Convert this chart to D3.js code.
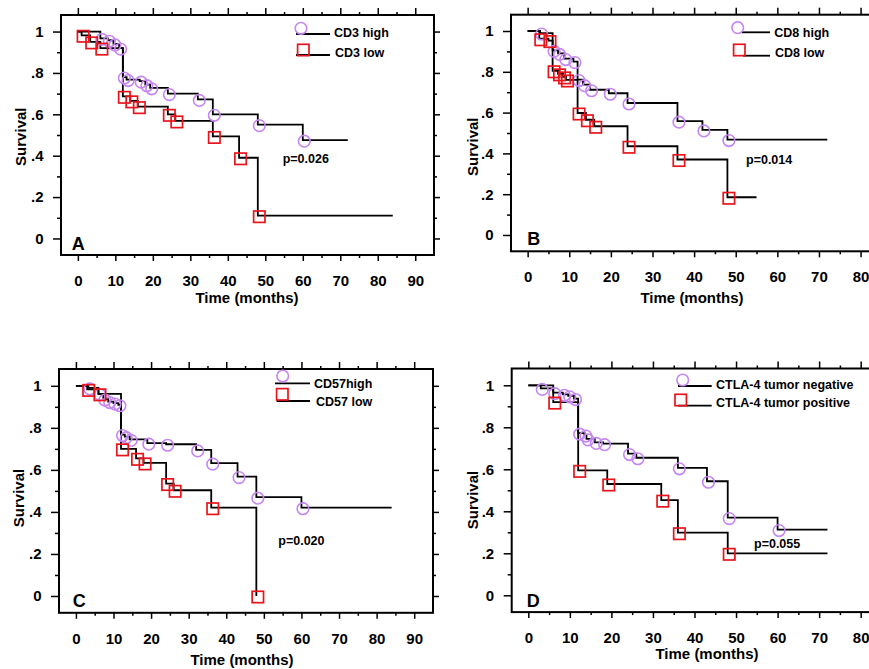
<!DOCTYPE html>
<html><head><meta charset="utf-8">
<script src="https://cdn.jsdelivr.net/npm/d3@7"></script>
<style>
body{margin:0;background:#fff;}
svg{display:block;font-family:"Liberation Sans",Arial,sans-serif;font-weight:bold;}
</style></head><body>
<svg id="chart" width="869" height="669"></svg>
<script>
// ---------------- DATA ----------------
// Panel A: CD3
const cd3HighT = [6, 8, 9.5, 11, 12, 13, 16.5, 18, 19.3, 24, 32, 36, 48, 60];
const cd3HighS = [0.967, 0.958, 0.94, 0.92, 0.78, 0.768, 0.76, 0.743, 0.728, 0.70, 0.672, 0.60, 0.55, 0.475];
const cd3HighEnd = 72;
const cd3LowT = [1, 3.3, 6, 12, 14, 16, 24, 26, 36, 43, 48];
const cd3LowS = [0.982, 0.95, 0.92, 0.687, 0.665, 0.637, 0.60, 0.568, 0.493, 0.39, 0.11];
const cd3LowEnd = 84;
// Panel B: CD8
const cd8HighT = [3, 6, 7.3, 8.8, 11, 12, 13.3, 15, 19.5, 24, 36, 42, 48];
const cd8HighS = [0.99, 0.905, 0.89, 0.865, 0.85, 0.762, 0.737, 0.712, 0.695, 0.647, 0.558, 0.515, 0.468];
const cd8HighEnd = 72;
const cd8LowT = [2.8, 5, 6, 7.3, 8.5, 9.2, 12, 14, 16, 24, 36, 48];
const cd8LowS = [0.962, 0.953, 0.805, 0.79, 0.775, 0.76, 0.598, 0.565, 0.533, 0.435, 0.37, 0.185];
const cd8LowEnd = 55;
// Panel C: CD57
const cd57HighT = [3.3, 6, 7.3, 8.6, 10, 11.3, 12, 13, 14.3, 19, 24, 32, 36, 43, 48, 60];
const cd57HighS = [0.99, 0.962, 0.937, 0.925, 0.918, 0.91, 0.768, 0.758, 0.745, 0.727, 0.722, 0.695, 0.632, 0.568, 0.47, 0.42];
const cd57HighEnd = 84;
const cd57LowT = [3, 6, 12, 16, 18, 24, 26, 36, 48];
const cd57LowS = [0.983, 0.962, 0.70, 0.655, 0.633, 0.535, 0.503, 0.42, 0];
const cd57LowEnd = 48;
// Panel D: CTLA-4
const ctlaNegT = [3, 6, 8.3, 9.6, 11, 12, 13.5, 14, 16, 18, 24, 26, 36, 43, 48, 60];
const ctlaNegS = [0.985, 0.965, 0.957, 0.95, 0.937, 0.772, 0.763, 0.745, 0.728, 0.722, 0.675, 0.655, 0.607, 0.543, 0.37, 0.313];
const ctlaNegEnd = 72;
const ctlaPosT = [6, 12, 19, 32, 36, 48];
const ctlaPosS = [0.92, 0.595, 0.53, 0.453, 0.298, 0.2];
const ctlaPosEnd = 72;

// Labels
const panelLetters = ["A", "B", "C", "D"];
const legendHigh = ["CD3 high", "CD8 high", "CD57high", "CTLA-4 tumor negative"];
const legendLow = ["CD3 low", "CD8 low", "CD57 low", "CTLA-4 tumor positive"];
const pValues = ["p=0.026", "p=0.014", "p=0.020", "p=0.055"];
const xTickValues = [0, 10, 20, 30, 40, 50, 60, 70, 80, 90];
const xMinorValues = [5, 15, 25, 35, 45, 55, 65, 75, 85];
const yTickValues = [0, 0.2, 0.4, 0.6, 0.8, 1];
const yTickLabels = ["0", ".2", ".4", ".6", ".8", "1"];
const yMinorValues = [0.1, 0.3, 0.5, 0.7, 0.9];
const xTitle = "Time (months)";
const yTitle = "Survival";

// ---------------- LAYOUT ----------------
const series = [
  {high:[cd3HighT, cd3HighS, cd3HighEnd], low:[cd3LowT, cd3LowS, cd3LowEnd]},
  {high:[cd8HighT, cd8HighS, cd8HighEnd], low:[cd8LowT, cd8LowS, cd8LowEnd]},
  {high:[cd57HighT, cd57HighS, cd57HighEnd], low:[cd57LowT, cd57LowS, cd57LowEnd]},
  {high:[ctlaNegT, ctlaNegS, ctlaNegEnd], low:[ctlaPosT, ctlaPosS, ctlaPosEnd]}
];
const layout = [
  {frame:[61,15,434,255], xd:[-4.5,95],
   leg:[{s:[301,28.3], l:[296,330,34], t:[334,32]}, {s:[303.3,50], l:[296,330,55], t:[335,52.3]}],
   p:[282.7,158], letter:[71.7,250], ytitle:[20.7,136.7], xtitle:[247,302.7]},
  {frame:[511,14.7,923,251.3], xd:[-4,95],
   leg:[{s:[737.7,27.7], l:[741.7,770,32.3], t:[774.3,32.3]}, {s:[739.3,50], l:[743,770,55.7], t:[775,52.3]}],
   p:[746,159.3], letter:[527.3,245], ytitle:[472.3,146.7], xtitle:[692,302.7]},
  {frame:[59,369,433,612.8], xd:[-4.5,95],
   leg:[{s:[282.7,376], l:[275,310,383.3], t:[314,383.3]}, {s:[282.3,394.3], l:[276.7,310,401], t:[316,401]}],
   p:[278.3,540], letter:[72.7,606.7], ytitle:[19,498], xtitle:[242,665]},
  {frame:[511.7,368.5,923,612.1], xd:[-4,95],
   leg:[{s:[682.7,380], l:[678,711.7,386], t:[716,384]}, {s:[680.7,400], l:[678,711.7,405.7], t:[716,402.7]}],
   p:[754,543.3], letter:[526.7,606.7], ytitle:[472.3,500], xtitle:[707,658.5]}
];
const purple = "#c585f2";
const red = "#e8141c";

const svg = d3.select("#chart");

function drawCircle(g, x, y){
  g.append("circle").attr("cx", x).attr("cy", y).attr("r", 5.8)
    .attr("fill", "none").attr("stroke", purple).attr("stroke-width", 1.6);
}
function drawSquare(g, x, y){
  g.append("rect").attr("x", x-5.7).attr("y", y-5.7).attr("width", 11.4).attr("height", 11.4)
    .attr("fill", "none").attr("stroke", red).attr("stroke-width", 1.7);
}

layout.forEach((L, i) => {
  const [fl, ft, fr, fb] = L.frame;
  const x = d3.scaleLinear().domain(L.xd).range([fl, fr]);
  const y = d3.scaleLinear().domain([-0.08, 1.08]).range([fb, ft]);
  const g = svg.append("g");

  const ax = (gen, vals, size, fmt) => gen.tickValues(vals).tickSize(size).tickFormat(fmt);
  const bot = g.append("g").attr("transform", `translate(0,${fb})`)
    .call(ax(d3.axisBottom(x), xTickValues, 6, d3.format("d")));
  bot.selectAll("text").attr("y", 31).attr("dy", 0).style("font-size", "15px");
  g.append("g").attr("transform", `translate(0,${fb})`).call(ax(d3.axisBottom(x), xMinorValues, 3, ""));
  g.append("g").attr("transform", `translate(0,${ft})`).call(ax(d3.axisTop(x), xTickValues, 7, ""));
  g.append("g").attr("transform", `translate(0,${ft})`).call(ax(d3.axisTop(x), xMinorValues, 3, ""));
  const left = g.append("g").attr("transform", `translate(${fl},0)`)
    .call(ax(d3.axisLeft(y), yTickValues, 8, (d, k) => yTickLabels[k]));
  left.selectAll("text").attr("x", -17.5).style("font-size", "15px");
  g.append("g").attr("transform", `translate(${fl},0)`).call(ax(d3.axisLeft(y), yMinorValues, 4, ""));
  g.append("g").attr("transform", `translate(${fr},0)`).call(ax(d3.axisRight(y), yTickValues, 6, ""));
  g.append("g").attr("transform", `translate(${fr},0)`).call(ax(d3.axisRight(y), yMinorValues, 3, ""));
  g.selectAll(".domain").remove();
  g.selectAll(".tick line").attr("stroke", "#000").attr("stroke-width", 1.5);
  g.selectAll(".tick text").attr("fill", "#000").style("font-family", "'Liberation Sans',Arial,sans-serif").style("font-weight", "bold");

  g.append("rect").attr("x", fl).attr("y", ft).attr("width", fr - fl).attr("height", fb - ft)
    .attr("fill", "none").attr("stroke", "#000").attr("stroke-width", 2);

  const curves = [series[i].high, series[i].low];
  curves.forEach(([T, S, end]) => {
    const pts = [[0, 1]];
    let prev = 1;
    T.forEach((t, k) => { pts.push([t, prev]); pts.push([t, S[k]]); prev = S[k]; });
    pts.push([end, prev]);
    g.append("path").datum(pts)
      .attr("d", d3.line().x(d => x(d[0])).y(d => y(d[1])))
      .attr("fill", "none").attr("stroke", "#000").attr("stroke-width", 1.8);
  });
  curves.forEach(([T, S], ci) => {
    T.forEach((t, k) => {
      const px = x(t) + 1.5, py = y(S[k]) + 1;
      if (ci === 0) drawCircle(g, px, py); else drawSquare(g, px, py);
    });
  });

  L.leg.forEach((e, k) => {
    g.append("line").attr("x1", e.l[0]).attr("x2", e.l[1]).attr("y1", e.l[2]).attr("y2", e.l[2])
      .attr("stroke", "#000").attr("stroke-width", 1.8);
    if (k === 0) drawCircle(g, e.s[0], e.s[1]); else drawSquare(g, e.s[0], e.s[1]);
    g.append("text").attr("x", e.t[0]).attr("y", e.t[1]).attr("dy", "0.36em")
      .style("font-size", "12.5px").text(k === 0 ? legendHigh[i] : legendLow[i]);
  });

  g.append("text").attr("x", L.p[0]).attr("y", L.p[1]).attr("dy", "0.36em")
    .style("font-size", "12.5px").text(pValues[i]);
  g.append("text").attr("x", L.letter[0]).attr("y", L.letter[1])
    .style("font-size", "18px").text(panelLetters[i]);
  g.append("text").attr("transform", `translate(${L.ytitle[0]},${L.ytitle[1]}) rotate(-90)`)
    .attr("text-anchor", "middle").attr("dy", "0.36em").style("font-size", "15px").text(yTitle);
  g.append("text").attr("x", L.xtitle[0]).attr("y", L.xtitle[1]).attr("text-anchor", "middle")
    .style("font-size", "15px").text(xTitle);
});
</script>
</body></html>
